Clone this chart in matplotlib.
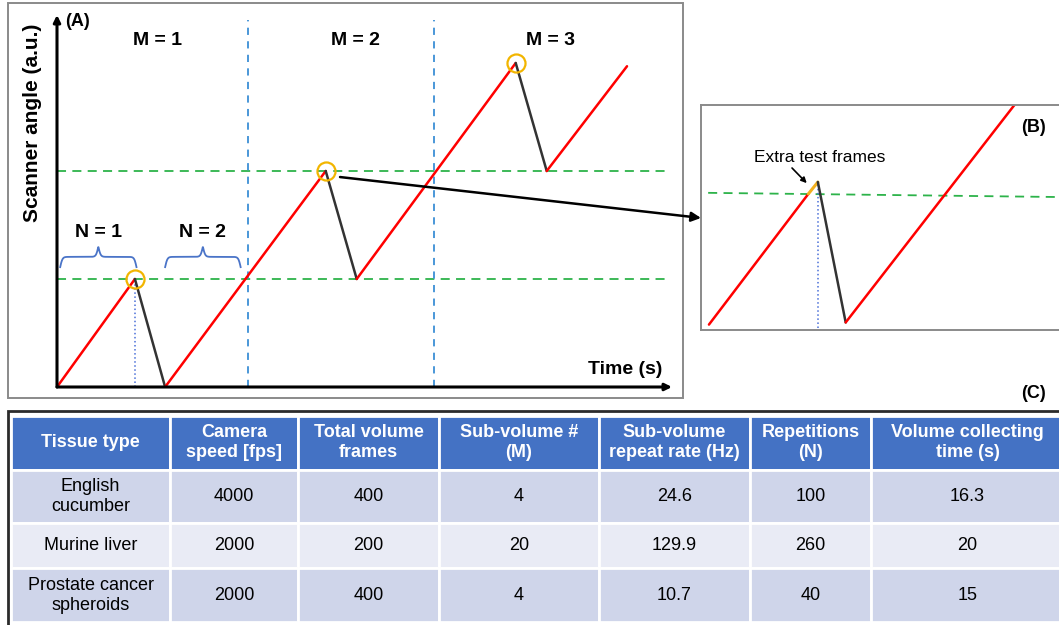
import numpy as np
import matplotlib
matplotlib.use("Agg")
import matplotlib.pyplot as plt
from matplotlib.patches import Rectangle, ConnectionPatch

plt.rcParams["font.family"] = ["Liberation Sans", "DejaVu Sans"]

W, H = 1059, 625

# ---- (A) scanner sawtooth: vertices in (time, angle) ----
t_a = [0, 0.98, 1.36, 3.38, 3.77, 5.77, 6.16, 7.17]
ang_a = [0, 1.0, 0, 2.0, 1.0, 3.0, 2.0, 2.97]
peak_idx = [1, 3, 5]
levels = [1.0, 2.0]
sub_bounds = [2.40, 4.74]
m_labels = ["M = 1", "M = 2", "M = 3"]
m_pos = [1.27, 3.75, 6.21]
n_labels = ["N = 1", "N = 2"]
n_spans = [(0.04, 1.0), (1.36, 2.31)]

# ---- (B) zoom on one flyback ----
t_b = [0.10, 1.35, 1.47, 1.82, 3.96]
ang_b = [0.05, 1.26, 1.37, 0.07, 2.10]
seg_colors_b = ["red", "#F2B01E", "#333333", "red"]
green_b_t = [0.09, 4.64]
green_b_a = [1.27, 1.23]

# ---- (C) acquisition parameters ----
col_labels = ["Tissue type", "Camera\nspeed [fps]", "Total volume\nframes",
              "Sub-volume #\n(M)", "Sub-volume\nrepeat rate (Hz)",
              "Repetitions\n(N)", "Volume collecting\ntime (s)"]
tissues = ["English\ncucumber", "Murine liver", "Prostate cancer\nspheroids"]
camera_fps = ["4000", "2000", "2000"]
total_frames = ["400", "200", "400"]
sub_volumes = ["4", "20", "4"]
repeat_rate = ["24.6", "129.9", "10.7"]
repetitions = ["100", "260", "40"]
collect_time = ["16.3", "20", "15"]


def fx(x):
    return x / W


def fy(y):
    return 1 - y / H


def box(l, t, r, b):
    return [fx(l), fy(b), (r - l) / W, (b - t) / H]


fig = plt.figure(figsize=(W / 100, H / 100), dpi=100)

# frame around panel A
fig.add_artist(Rectangle((fx(8), fy(398)), 675 / W, 395 / H, transform=fig.transFigure,
                         fill=False, edgecolor="#8a8a8a", lw=1.4))

ax_a = fig.add_axes(box(57, 15, 672, 387))
ax_a.set_xlim(0, 615 / 79.5)
ax_a.set_ylim(0, 372 / 108)
ax_a.axis("off")

# axes drawn as arrows
ax_a.annotate("", xy=(0, 1), xytext=(0, 0), xycoords="axes fraction",
              arrowprops=dict(arrowstyle="-|>", lw=2.2, color="black", mutation_scale=10, shrinkA=0, shrinkB=0))
ax_a.annotate("", xy=(1, 0), xytext=(0, 0), xycoords="axes fraction",
              arrowprops=dict(arrowstyle="-|>", lw=2.2, color="black", mutation_scale=10, shrinkA=0, shrinkB=0))

for lv in levels:
    ax_a.plot([0, 7.69], [lv, lv], color="#2DB34A", lw=1.3, ls=(0, (5, 3.5)))
for xb in sub_bounds:
    ax_a.plot([xb, xb], [0, 3.40], color="#3B8FD6", lw=1.3, ls=(0, (4, 3.5)))

ax_a.plot([t_a[1], t_a[1]], [0, ang_a[1]], color="#4A6FD8", lw=1.1, ls=":")

for i in range(len(t_a) - 1):
    rising = ang_a[i + 1] > ang_a[i]
    ax_a.plot(t_a[i:i + 2], ang_a[i:i + 2], color="red" if rising else "#333333",
              lw=1.8, solid_capstyle="round")

ax_a.plot([t_a[i] for i in peak_idx], [ang_a[i] for i in peak_idx], "o", ms=13,
          mfc="none", mec="#F2B500", mew=1.6)

for lab, xm in zip(m_labels, m_pos):
    ax_a.text(xm, 3.21, lab, ha="center", va="center", fontsize=14, fontweight="bold")


def brace(x0, x1, y0, h):
    xs = np.linspace(x0, x1, 300)
    xm = (x0 + x1) / 2
    beta = 70
    half = np.where(xs < xm,
                    1 / (1 + np.exp(-beta * (xs - x0))) + 1 / (1 + np.exp(-beta * (xs - xm))),
                    1 / (1 + np.exp(-beta * (x1 - xs))) + 1 / (1 + np.exp(-beta * (xm - xs))))
    return xs, y0 + (half - 0.5) * h


for lab, (x0, x1) in zip(n_labels, n_spans):
    bx, by = brace(x0, x1, 1.11, 0.19)
    ax_a.plot(bx, by, color="#4A74C8", lw=1.3)
    ax_a.text((x0 + x1) / 2, 1.435, lab, ha="center", va="center", fontsize=14, fontweight="bold")

fig.text(fx(65), fy(22), "(A)", fontsize=13, fontweight="bold", ha="left", va="center")
fig.text(fx(33), fy(123), "Scanner angle (a.u.)", fontsize=15, fontweight="bold",
         rotation=90, ha="center", va="center")
fig.text(fx(662), fy(369), "Time (s)", fontsize=14, fontweight="bold", ha="right", va="center")

# ---- panel B ----
ax_b = fig.add_axes(box(701, 105, 1070, 330))
ax_b.set_xlim(0, 369 / 79.5)
ax_b.set_ylim(0, 225 / 108)
ax_b.set_xticks([])
ax_b.set_yticks([])
for s in ax_b.spines.values():
    s.set_color("#8a8a8a")
    s.set_linewidth(1.4)

ax_b.plot(green_b_t, green_b_a, color="#2DB34A", lw=1.3, ls=(0, (5, 3.5)))
ax_b.plot([t_b[2], t_b[2]], [0.02, ang_b[2]], color="#4A6FD8", lw=1.1, ls=":")
for i, c in enumerate(seg_colors_b):
    ax_b.plot(t_b[i:i + 2], ang_b[i:i + 2], color=c, lw=2.2 if i == 1 else 1.8,
              solid_capstyle="round")
ax_b.text(1.497, 1.60, "Extra test frames", fontsize=12.5, ha="center", va="center")
ax_b.annotate("", xy=(1.33, 1.36), xytext=(1.145, 1.50),
              arrowprops=dict(arrowstyle="-|>", lw=1.2, color="black", mutation_scale=8, shrinkA=0, shrinkB=0))
ax_b.text(0.90, 0.898, "(B)", transform=ax_b.transAxes, fontsize=13, fontweight="bold",
          ha="center", va="center")

con = ConnectionPatch(xyA=(3.56, 1.944), coordsA=ax_a.transData,
                      xyB=(0, 0.498), coordsB=ax_b.transAxes,
                      arrowstyle="-|>", lw=1.8, color="black", mutation_scale=14)
fig.add_artist(con)

# ---- panel C: table ----
fig.text(fx(1033), fy(393), "(C)", fontsize=13, fontweight="bold", ha="center", va="center")
fig.add_artist(Rectangle((fx(8), fy(640)), 1070 / W, 229 / H, transform=fig.transFigure,
                         fill=False, edgecolor="#2b2b2b", lw=2.0))

ax_t = fig.add_axes(box(11, 416, 1064, 622))
ax_t.axis("off")
rows = [list(r) for r in zip(tissues, camera_fps, total_frames, sub_volumes,
                               repeat_rate, repetitions, collect_time)]
col_px = [159, 128, 141, 160, 151, 121, 193]
col_w = [c / sum(col_px) for c in col_px]
row_px = [52, 52, 44, 52]

tbl = ax_t.table(cellText=rows, colLabels=col_labels, colWidths=col_w,
                 cellLoc="center", bbox=[0, 0, 1, 1])
tbl.auto_set_font_size(False)
fills = ["#CFD5EA", "#E9EBF5", "#CFD5EA"]
for (r, c), cell in tbl.get_celld().items():
    cell.set_height(row_px[r])
    cell.set_edgecolor("white")
    cell.set_linewidth(2)
    if r == 0:
        cell.set_facecolor("#4472C4")
        cell.get_text().set_color("white")
        cell.get_text().set_fontweight("bold")
    else:
        cell.set_facecolor(fills[r - 1])
    cell.get_text().set_fontsize(13)

fig.savefig("out.png", dpi=100)
